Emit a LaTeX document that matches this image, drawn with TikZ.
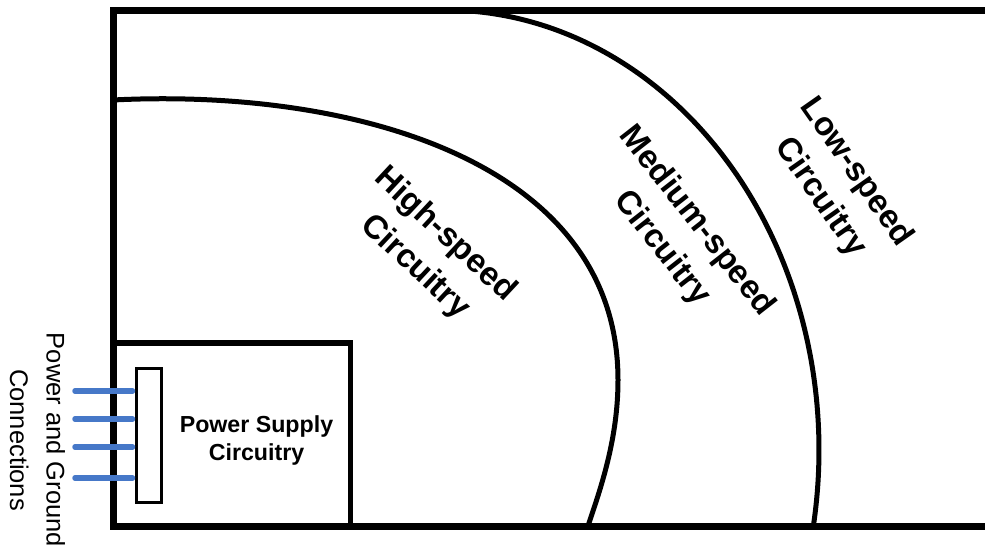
\documentclass[tikz,border=0pt]{standalone}
\usepackage{fontspec}
\setmainfont{Liberation Sans}
\definecolor{pinblue}{RGB}{70,120,200}
\begin{document}
\begin{tikzpicture}[x=1pt,y=-1pt,
  frame/.style={line width=7pt, line join=miter},
  zone/.style={line width=5pt},
  psbox/.style={line width=5.5pt},
  pin/.style={line width=5.5pt, pinblue, line cap=round, shorten >=2.75pt},
  lbl/.style={font=\fontsize{33}{44}\selectfont\bfseries, align=center, inner sep=0pt},
  pslbl/.style={font=\fontsize{23.2}{28}\selectfont\bfseries, align=center, inner sep=0pt},
  pglbl/.style={font=\fontsize{25.5}{36.5}\selectfont, align=center, inner sep=0pt}]
\useasboundingbox (0,0) rectangle (985,552);
\clip (0,0) rectangle (985,552);
% zone boundaries
\draw[zone] (113,100) .. controls (350,88) and (618,160) .. (618,380)
            .. controls (618,440) and (600,490) .. (588,526);
\draw[zone] plot[domain=-90:9.95, samples=120, variable=\t]
            ({445+374*cos(\t)},{450+440*sin(\t)});
% power supply box
\draw[psbox] (113,343) -- (350.5,343) -- (350.5,526);
% outer board outline
\draw[frame] (1000,10) -- (113,10) -- (113,526) -- (1000,526);
% connector
\node[draw, line width=2.5pt, minimum width=25, minimum height=134, inner sep=0pt] (cb) at (149,435.5) {};
\coordinate (p1) at (75,391);
\coordinate (p2) at (75,419);
\coordinate (p3) at (75,447);
\coordinate (p4) at (75,478);
\draw[pin] (p1) -- (p1 -| cb.west);
\draw[pin] (p2) -- (p2 -| cb.west);
\draw[pin] (p3) -- (p3 -| cb.west);
\draw[pin] (p4) -- (p4 -| cb.west);
% labels
\node[pslbl] (ps) at (256.5,440) {Power Supply\\Circuitry};
\node[pglbl, rotate=-90] (pg) at (37.5,440) {Power and Ground\\Connections};
\node[lbl, rotate=-43] (hs) at (430,251) {High-speed\\Circuitry};
\node[lbl, rotate=-52] (ms) at (679,235) {Medium-speed\\Circuitry};
\node[lbl, rotate=-55] (ls) at (838,185) {Low-speed\\Circuitry};
\end{tikzpicture}
\end{document}
